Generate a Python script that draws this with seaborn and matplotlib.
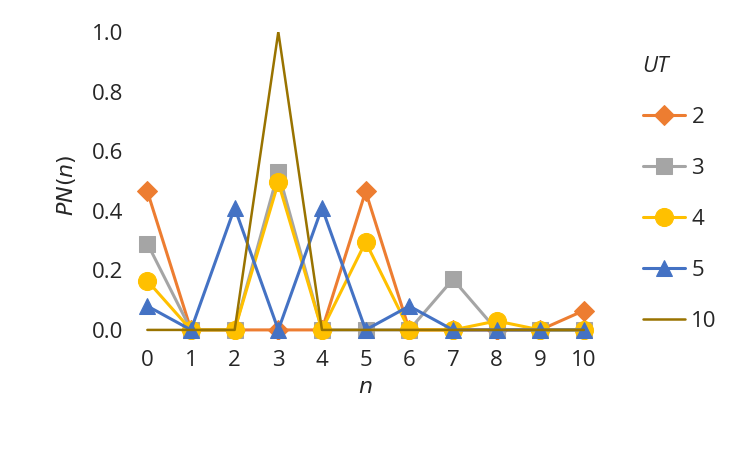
import matplotlib
matplotlib.use("Agg")
import matplotlib.pyplot as plt
import seaborn as sns
import pandas as pd

n = list(range(11))
ut2 = [0.465, 0, 0, 0, 0, 0.465, 0, 0, 0, 0, 0.065]
ut3 = [0.29, 0, 0, 0.53, 0, 0, 0, 0.17, 0, 0, 0]
ut4 = [0.165, 0, 0, 0.495, 0, 0.295, 0, 0, 0.03, 0, 0]
ut5 = [0.08, 0, 0.41, 0, 0.41, 0, 0.08, 0, 0, 0, 0]
ut10 = [0, 0, 0, 1.0, 0, 0, 0, 0, 0, 0, 0]

series = [("2", ut2, "#ED7D31", "D", 10),
          ("3", ut3, "#A5A5A5", "s", 12),
          ("4", ut4, "#FFC000", "o", 13),
          ("5", ut5, "#4472C4", "^", 12),
          ("10", ut10, "#997300", None, 0)]

sns.set_style("white")
plt.rcParams["font.family"] = ["Open Sans", "DejaVu Sans"]

fig = plt.figure(figsize=(7.5, 4.5), dpi=100)
ax = fig.add_axes([0.179, 0.247, 0.617, 0.682])
for label, vals, color, marker, ms in series:
    df = pd.DataFrame({"n": n, "PN": vals})
    sns.lineplot(data=df, x="n", y="PN", ax=ax, color=color, marker=marker,
                 markersize=ms, markeredgecolor=color, linewidth=2.2 if marker else 1.8,
                 label=label)

ax.set_xlim(-0.3, 10.3)
ax.set_ylim(-0.03, 1.0)
ax.set_xticks(n)
ax.set_yticks([0, 0.2, 0.4, 0.6, 0.8, 1.0])
ax.set_yticklabels([f"{v:.1f}" for v in [0, 0.2, 0.4, 0.6, 0.8, 1.0]])
ax.tick_params(labelsize=16, length=0, pad=8)
ax.set_xlabel("$n$", fontsize=16)
ax.set_ylabel("$PN(n)$", fontsize=16, labelpad=10)
for s in ax.spines.values():
    s.set_visible(False)

handles, labels = ax.get_legend_handles_labels()
ax.get_legend().remove()
leg = fig.legend(handles, labels, title="UT", loc="upper left",
                 bbox_to_anchor=(0.83, 0.92), frameon=False, fontsize=16,
                 handlelength=1.9, handletextpad=0.3, labelspacing=1.35)
leg.get_title().set_fontsize(16)
leg.get_title().set_fontstyle("italic")
leg._legend_box.align = "left"

fig.savefig("out.png", dpi=100)
